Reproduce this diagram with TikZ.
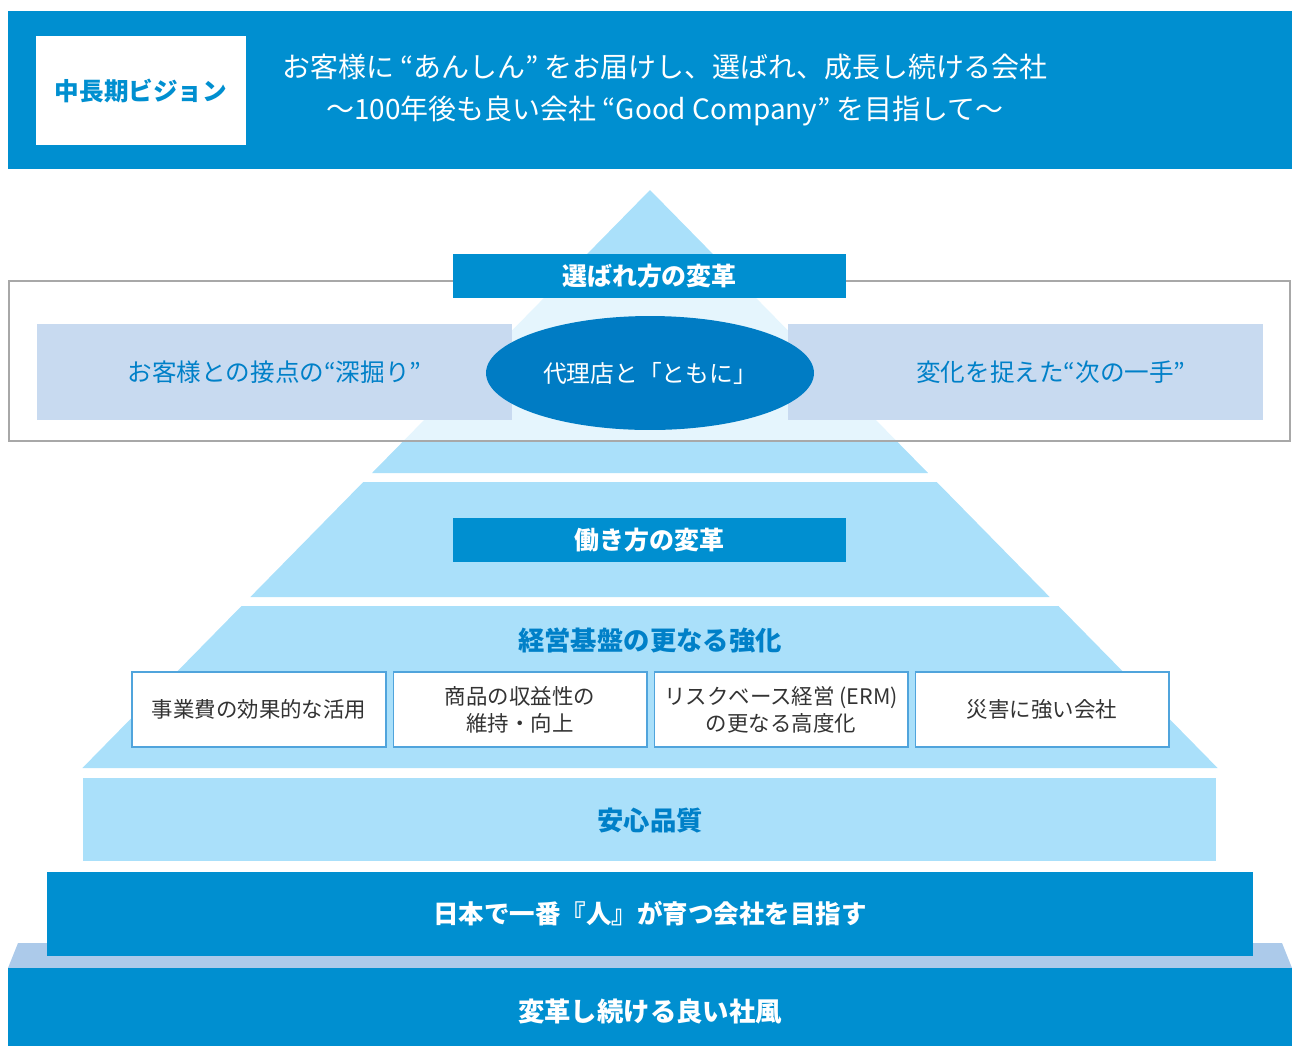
\documentclass[tikz,border=0pt]{standalone}
\usepackage{fontspec}
\setmainfont{Noto Sans CJK JP}
\usetikzlibrary{positioning,shapes.geometric}

\definecolor{vision}{RGB}{0,143,208}
\definecolor{ellblue}{RGB}{0,124,196}
\definecolor{pyrblue}{RGB}{170,224,250}
\definecolor{sidebox}{RGB}{200,218,240}
\definecolor{basegray}{RGB}{172,202,234}
\definecolor{txtblue}{RGB}{0,128,200}
\definecolor{framegray}{RGB}{168,168,168}
\definecolor{boxline}{RGB}{80,164,220}

% one slice of the pyramid, from top y to bottom y (pixels)
\newcommand\pyrtier[2]{\fill[pyrblue] ({650-0.982*(#1-190)},#1) -- ({650+0.982*(#1-190)},#1)
  -- ({650+0.982*(#2-190)},#2) -- ({650-0.982*(#2-190)},#2) -- cycle;}

\begin{document}
\begin{tikzpicture}[x=0.02cm, y=-0.02cm,
    head/.style={fill=vision, text=white, font=\bfseries\fontsize{14.2}{17}\selectfont,
      minimum width=7.86cm, minimum height=0.88cm, inner sep=0},
    side/.style={fill=sidebox, text=txtblue, font=\fontsize{14}{17}\selectfont,
      minimum width=9.5cm, minimum height=1.92cm, inner sep=0},
    pillar/.style={draw=boxline, line width=0.6pt, fill=white, text=black!80,
      font=\fontsize{12.2}{15.5}\selectfont, align=center,
      minimum width=5.08cm, minimum height=1.5cm, inner sep=0},
    title/.style={text=txtblue, font=\bfseries\fontsize{15}{18}\selectfont}
  ]
  \useasboundingbox (0,0) rectangle (1292,1046);

  % vision banner
  \fill[vision] (8,11) rectangle (1292,169);
  \node[fill=white, text=vision, font=\bfseries\fontsize{14}{17}\selectfont,
    minimum width=4.2cm, minimum height=2.18cm] (vbox) at (141,90.5) {中長期ビジョン};
  \node[text=white, align=center, font=\fontsize{15.9}{24}\selectfont] (vtext) at (665,90)
    {お客様に “あんしん” をお届けし、選ばれ、成長し続ける会社\\〜100年後も良い会社 “Good Company” を目指して〜};

  % pyramid
  \fill[pyrblue] (650,190) -- (928,473) -- (372,473) -- cycle;
  \pyrtier{482}{597}
  \pyrtier{606}{768}
  \fill[pyrblue] (83,778) rectangle (1216,861);
  \fill[basegray] (18,943) -- (1282,943) -- (1292,968) -- (8,968) -- cycle;
  \fill[vision] (47,872) rectangle (1253,956);
  \fill[vision] (8,968) rectangle (1292,1046);

  % choice frame
  \draw[framegray, line width=1.3pt, fill=white, fill opacity=0.7] (9,281) rectangle (1290,441);
  \node[head] (choice) at (649.5,276) {選ばれ方の変革};
  \node[side] (contact) at (274.5,372) {お客様との接点の“深掘り”};
  \node[side] (nextmove) at (1025.5,372) {};
  \node[text=txtblue, font=\fontsize{14}{17}\selectfont, inner sep=0] (nexttext)
    at ([xshift=0.51cm]nextmove.center) {変化を捉えた“次の一手”};
  \node[ellipse, fill=ellblue, text=white, font=\fontsize{13.5}{16}\selectfont,
    minimum width=6.56cm, minimum height=2.28cm, inner sep=0] (agency) at (650,373) {代理店と「ともに」};

  % work style
  \node[head] (work) at (649.5,540) {働き方の変革};

  % management base
  \node[title] (base) at (650,640) {経営基盤の更なる強化};
  \node[pillar] (cost) at (259,709.5) {事業費の効果的な活用};
  \node[pillar, right=0.12cm of cost] (profit) {商品の収益性の\\維持・向上};
  \node[pillar, right=0.12cm of profit] (erm) {リスクベース経営 (ERM)\\の更なる高度化};
  \node[pillar, right=0.12cm of erm] (disaster) {災害に強い会社};

  % lower tiers
  \node[title] (quality) at (650,821) {安心品質};
  \node[text=white, font=\bfseries\fontsize{14.5}{17}\selectfont] (people) at (650,914) {日本で一番『人』が育つ会社を目指す};
  \node[text=white, font=\bfseries\fontsize{15}{18}\selectfont] (culture) at (650,1011) {変革し続ける良い社風};
\end{tikzpicture}
\end{document}
